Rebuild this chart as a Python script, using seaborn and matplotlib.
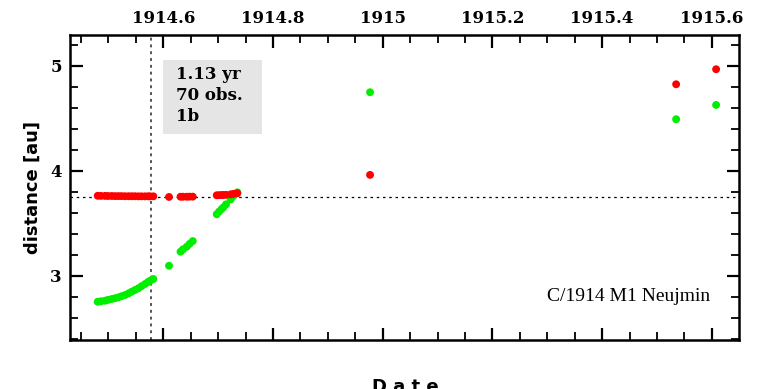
import matplotlib
matplotlib.use("Agg")
import matplotlib.pyplot as plt
import seaborn as sns
import pandas as pd
from matplotlib.patches import Rectangle
from matplotlib.ticker import MultipleLocator

# ---- data ----
dates = [1914.4804, 1914.4864, 1914.4937, 1914.4992, 1914.5059, 1914.5120,
         1914.5180, 1914.5238, 1914.5302, 1914.5366, 1914.5424, 1914.5484,
         1914.5545, 1914.5603, 1914.5667, 1914.5721, 1914.5758, 1914.5818,
         1914.6104, 1914.6314, 1914.6360, 1914.6427, 1914.6478, 1914.6537,
         1914.6974, 1914.7016, 1914.7062, 1914.7095, 1914.7144, 1914.7229,
         1914.7280, 1914.7350, 1914.9769, 1915.5349, 1915.6078]
r_sun = [3.761, 3.760, 3.760, 3.759, 3.759, 3.758, 3.758, 3.758, 3.757,
         3.757, 3.757, 3.757, 3.756, 3.756, 3.756, 3.756, 3.756, 3.756,
         3.750, 3.752, 3.752, 3.752, 3.753, 3.753, 3.766, 3.767, 3.768,
         3.769, 3.770, 3.775, 3.779, 3.785, 3.960, 4.823, 4.966]
delta_earth = [2.752, 2.757, 2.762, 2.770, 2.778, 2.786, 2.794, 2.805, 2.816,
               2.832, 2.848, 2.864, 2.880, 2.900, 2.921, 2.940, 2.952, 2.969,
               3.095, 3.229, 3.252, 3.276, 3.303, 3.330, 3.585, 3.610, 3.635,
               3.651, 3.680, 3.727, 3.760, 3.794, 4.747, 4.490, 4.626]
ref_distance = 3.752
ref_date = 1914.578
info_lines = ["1.13 yr", "70 obs.", "1b"]
comet_name = "C/1914 M1 Neujmin"

df = pd.concat([
    pd.DataFrame({"date": dates, "distance": delta_earth, "series": "delta"}),
    pd.DataFrame({"date": dates, "distance": r_sun, "series": "r"}),
])

sns.set_style("ticks")
plt.rcParams["font.family"] = ["DejaVu Serif", "DejaVu Sans"]
plt.rcParams["text.color"] = "black"
plt.rcParams["axes.labelcolor"] = "black"
plt.rcParams["xtick.color"] = "black"
plt.rcParams["ytick.color"] = "black"

fig = plt.figure(figsize=(7.64, 3.89), dpi=100)
ax = fig.add_axes([70 / 764, 49 / 389, 668.7 / 764, 305 / 389])

sns.scatterplot(data=df, x="date", y="distance", hue="series",
                palette={"delta": "#00ee00", "r": "#ff0000"},
                s=32, linewidth=0, legend=False, ax=ax, zorder=3)

ax.axhline(ref_distance, color="black", ls=(0, (2, 3)), lw=0.9, zorder=1)
ax.axvline(ref_date, color="#555555", ls=(0, (1.5, 2)), lw=1.4, zorder=1)

ax.set_xlim(1914.4299, 1915.649)
ax.set_ylim(2.388, 5.292)

ax.xaxis.set_major_locator(MultipleLocator(0.2))
ax.xaxis.set_minor_locator(MultipleLocator(0.05))
ax.yaxis.set_major_locator(MultipleLocator(1))
ax.yaxis.set_minor_locator(MultipleLocator(0.2))
ax.xaxis.set_major_formatter(matplotlib.ticker.FuncFormatter(
    lambda v, p: "%d" % round(v) if abs(v - round(v)) < 1e-6 else "%.1f" % v))

ax.tick_params(which="both", direction="in", top=True, bottom=True,
               left=True, right=True, labeltop=True, labelbottom=False,
               labelleft=True, labelright=False, colors="black")
ax.tick_params(which="major", length=9, width=1.6, pad=6, labelsize=12)
ax.tick_params(which="minor", length=5.5, width=1.3)
for lab in ax.get_xticklabels() + ax.get_yticklabels():
    lab.set_fontweight("bold")

for sp in ax.spines.values():
    sp.set_linewidth(1.8)
    sp.set_color("black")

ax.set_xlabel("")
ax.set_ylabel("distance [au]", fontsize=13, fontweight="bold",
              family="DejaVu Sans", labelpad=6, color="black")

ax.add_patch(Rectangle((0.139, 0.675), 0.148, 0.243, transform=ax.transAxes,
                       facecolor="#e5e5e5", edgecolor="none", zorder=2))
ax.text(0.1585, 0.898, "\n".join(info_lines), transform=ax.transAxes,
        ha="left", va="top", fontsize=12, fontweight="bold", color="black",
        linespacing=1.3, zorder=4)
ax.text(0.957, 0.141, comet_name, transform=ax.transAxes, ha="right",
        va="center", fontsize=14, family="Liberation Serif", color="black",
        zorder=4)

fig.text(405 / 764, 11 / 389, "D a t e", ha="center", va="top",
         fontsize=13, fontweight="bold", family="DejaVu Sans", color="black")

fig.savefig("out.png", dpi=100)
